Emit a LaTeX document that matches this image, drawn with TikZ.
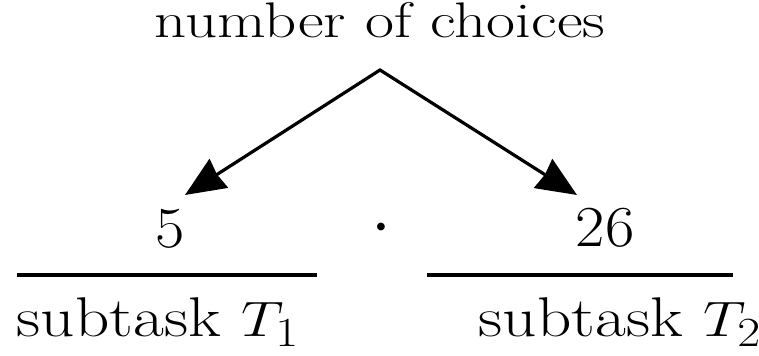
\documentclass[tikz,border=0pt]{standalone}
\usepackage{amsmath}
\usepackage{graphicx}
\usepackage{tikz}
\usetikzlibrary{arrows.meta,positioning}
\newcommand{\widen}[2]{\scalebox{#1}[1]{#2}}
\tikzset{
  toptext/.style={font=\fontsize{25}{30}\selectfont, inner sep=0pt, anchor=base},
  numtext/.style={font=\fontsize{29}{34}\selectfont, inner sep=0pt, anchor=base},
  subtext/.style={font=\fontsize{28}{33}\selectfont, inner sep=0pt, anchor=base},
  dottext/.style={font=\fontsize{50}{56}\selectfont, inner sep=0pt, anchor=base},
  twoarrow/.style={{Stealth[length=20pt,width=17pt,inset=1pt]}-{Stealth[length=20pt,width=17pt,inset=1pt]}, line width=1.6pt, line join=miter},
  fracrule/.style={line width=1.7pt}
}
\begin{document}
\begin{tikzpicture}[x=0.5pt, y=-0.5pt]
\useasboundingbox (0,0) rectangle (759,356);
% top label and arrows
\node[toptext] (choices) at (380,38) {\widen{1.26}{number of choices}};
\coordinate (apex) at (380,70);
\coordinate (tipleft) at (185,195);
\coordinate (tipright) at (577,195);
\draw[twoarrow] (tipleft) -- (apex) -- (tipright);
% product
\node[numtext] (five) at (170,248) {\widen{1.1}{5}};
\node[dottext] (times) at (381,240) {$\boldsymbol{\cdot}$};
\node[numtext] (twentysix) at (605,247) {\widen{1.1}{26}};
% rules
\coordinate (ruleAa) at (17,275);
\coordinate (ruleAb) at (317,275);
\coordinate (ruleBa) at (427,275);
\coordinate (ruleBb) at (733,275);
\draw[fracrule] (ruleAa) -- (ruleAb);
\draw[fracrule] (ruleBa) -- (ruleBb);
% subtasks
\node[subtext] (subone) at (158,337) {\widen{1.2}{subtask $T_1$}};
\node[subtext] (subtwo) at (620,337) {\widen{1.2}{subtask $T_2$}};
\end{tikzpicture}
\end{document}
